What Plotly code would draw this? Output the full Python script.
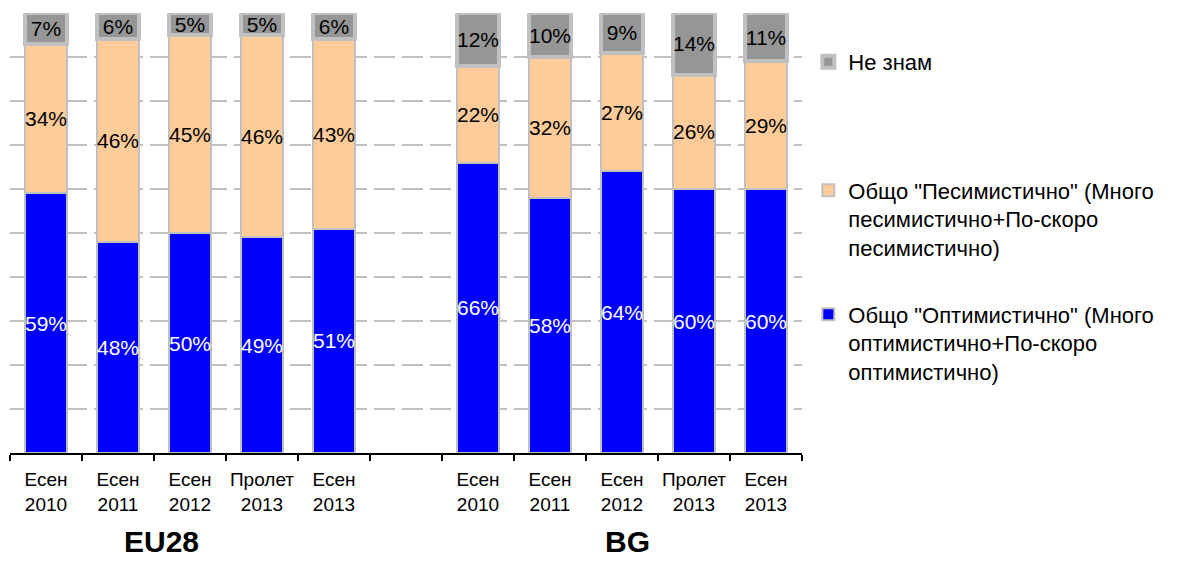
import plotly.graph_objects as go

# ---- data ----
categories = ["EU_2010", "EU_2011", "EU_2012", "EU_P2013", "EU_2013", "gap",
              "BG_2010", "BG_2011", "BG_2012", "BG_P2013", "BG_2013"]
tick_labels = ["Есен<br>2010", "Есен<br>2011", "Есен<br>2012", "Пролет<br>2013", "Есен<br>2013", "",
               "Есен<br>2010", "Есен<br>2011", "Есен<br>2012", "Пролет<br>2013", "Есен<br>2013"]
optimistic = [59, 48, 50, 49, 51, None, 66, 58, 64, 60, 60]
pessimistic = [34, 46, 45, 46, 43, None, 22, 32, 27, 26, 29]
dont_know = [7, 6, 5, 5, 6, None, 12, 10, 9, 14, 11]
group_labels = ["EU28", "BG"]

name_opt = 'Общо "Оптимистично" (Много<br>оптимистично+По-скоро<br>оптимистично)'
name_pes = 'Общо "Песимистично" (Много<br>песимистично+По-скоро<br>песимистично)'
name_dk = 'Не знам'

FONT = "Liberation Sans, Arial, sans-serif"
BORDER = "#C0C0C0"

fig = go.Figure()

def add(values, name, fill, txtcolor, lw, legend):
    fig.add_trace(go.Bar(
        x=categories, y=values, name=name,
        marker=dict(color=fill, line=dict(color=BORDER, width=lw)),
        texttemplate="%{y}%", textposition="inside", insidetextanchor="middle",
        textangle=0, constraintext="none",
        textfont=dict(family=FONT, size=21, color=txtcolor),
        legend=legend, hoverinfo="skip",
    ))

add(optimistic, name_opt, "#0000FF", "white", 2, "legend3")
add(pessimistic, name_pes, "#FFCC99", "black", 2, "legend2")
add(dont_know, name_dk, "#969696", "black", 4, "legend")

legend_common = dict(font=dict(family=FONT, size=22, color="black"),
                     valign="top", bgcolor="rgba(0,0,0,0)", xanchor="left",
                     yanchor="middle", itemclick=False, itemdoubleclick=False)
lx = 1.008
fig.update_layout(
    width=1170, height=554,
    margin=dict(l=2, r=376, t=5, b=109),
    paper_bgcolor="white", plot_bgcolor="white",
    barmode="stack", bargap=0.42,
    showlegend=True,
    legend=dict(x=lx, y=0.889, **legend_common),
    legend2=dict(x=lx, y=0.532, **legend_common),
    legend3=dict(x=lx, y=0.250, **legend_common),
    font=dict(family=FONT, size=19, color="black"),
    xaxis=dict(
        type="category", categoryorder="array", categoryarray=categories,
        tickmode="array", tickvals=categories, ticktext=tick_labels,
        tickson="boundaries", ticks="outside", ticklen=6, tickwidth=2,
        tickcolor="black", showline=True, linecolor="black", linewidth=2,
        showgrid=False, range=[-0.5, 10.5], tickfont=dict(family=FONT, size=19),
        tickangle=0, ticklabelstandoff=8, fixedrange=True,
    ),
    yaxis=dict(
        range=[0, 100], dtick=10, tick0=0, showticklabels=False, ticks="",
        showgrid=True, gridcolor=BORDER, gridwidth=2, griddash="21px,7px",
        zeroline=False, showline=False, fixedrange=True,
    ),
)

for label, xp in zip(group_labels, [0.191, 0.780]):
    fig.add_annotation(text="<b>%s</b>" % label, x=xp, y=-0.2, xref="paper", yref="paper",
                       showarrow=False, font=dict(family=FONT, size=30, color="black"),
                       xanchor="center", yanchor="middle")

fig.write_html("out.html", config={"displayModeBar": False})
